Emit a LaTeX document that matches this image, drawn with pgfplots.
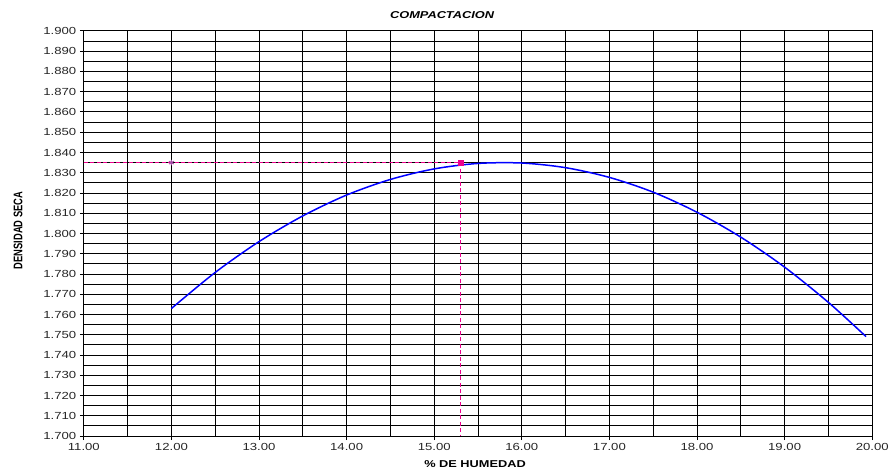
\documentclass[border=0pt]{standalone}
\usepackage{fontspec}
\setmainfont{Liberation Sans}
\newfontfamily\wide[FakeStretch=1.28]{Liberation Sans}
\newfontfamily\narrow[FakeStretch=0.75]{Liberation Sans}
\usepackage{pgfplots}
\pgfplotsset{compat=1.18}
\begin{document}
\begin{tikzpicture}
\begin{axis}[
  scale only axis, width=790pt, height=406pt,
  xmin=11, xmax=20, ymin=1.700, ymax=1.900,
  xtick={11,12,13,14,15,16,17,18,19,20},
  ytick={1.700,1.710,1.720,1.730,1.740,1.750,1.760,1.770,1.780,1.790,1.800,1.810,1.820,1.830,1.840,1.850,1.860,1.870,1.880,1.890,1.900},
  minor x tick num=1, minor y tick num=1,
  grid=both,
  major grid style={black, line width=1.0pt},
  minor grid style={black, line width=1.0pt},
  axis line style={black, line width=1.0pt},
  tick style={black, line width=1.0pt},
  tick align=outside, major tick length=4pt, minor tick length=0pt,
  xtick pos=bottom, ytick pos=left,
  /pgf/number format/assume math mode=true,
  xticklabel style={/pgf/number format/.cd, fixed, fixed zerofill, precision=2},
  yticklabel style={/pgf/number format/.cd, fixed, fixed zerofill, precision=3},
  tick label style={font=\wide\fontsize{10.3}{10.3}\selectfont, text=black!85},
  scaled y ticks=false,
]
\addplot[blue, line width=1.5pt, smooth] coordinates {
(12.0,1.7630) (12.5,1.7808) (13.0,1.7960) (13.5,1.8087) (14.0,1.8190)
(14.5,1.8267) (15.0,1.8319) (15.5,1.8346) (16.0,1.8348) (16.5,1.8325)
(17.0,1.8277) (17.5,1.8204) (18.0,1.8105) (18.5,1.7982) (19.0,1.7834)
(19.5,1.7660) (19.93,1.7491)
};
\addplot[magenta, line width=1.3pt, dash pattern=on 4pt off 2.5pt] coordinates {(11,1.835) (15.3,1.835) (15.3,1.700)};
\addplot[only marks, mark=square*, mark size=2.5pt, magenta] coordinates {(15.3,1.835)};
\addplot[only marks, mark=asterisk, mark size=2.8pt, violet!70, mark options={line width=1pt}] coordinates {(12,1.835)};
\end{axis}
\node[font=\wide\bfseries\itshape\fontsize{10}{10}\selectfont] at (359pt,422pt) {COMPACTACION};
\node[font=\wide\bfseries\fontsize{10}{10}\selectfont] at (392pt,-28.5pt) {\% DE HUMEDAD};
\node[font=\narrow\bfseries\fontsize{12.5}{12.5}\selectfont, rotate=90] at (-66pt,206pt) {DENSIDAD SECA};
\path[use as bounding box] (-84pt,-37pt) rectangle (808pt,437pt);
\end{tikzpicture}
\end{document}
